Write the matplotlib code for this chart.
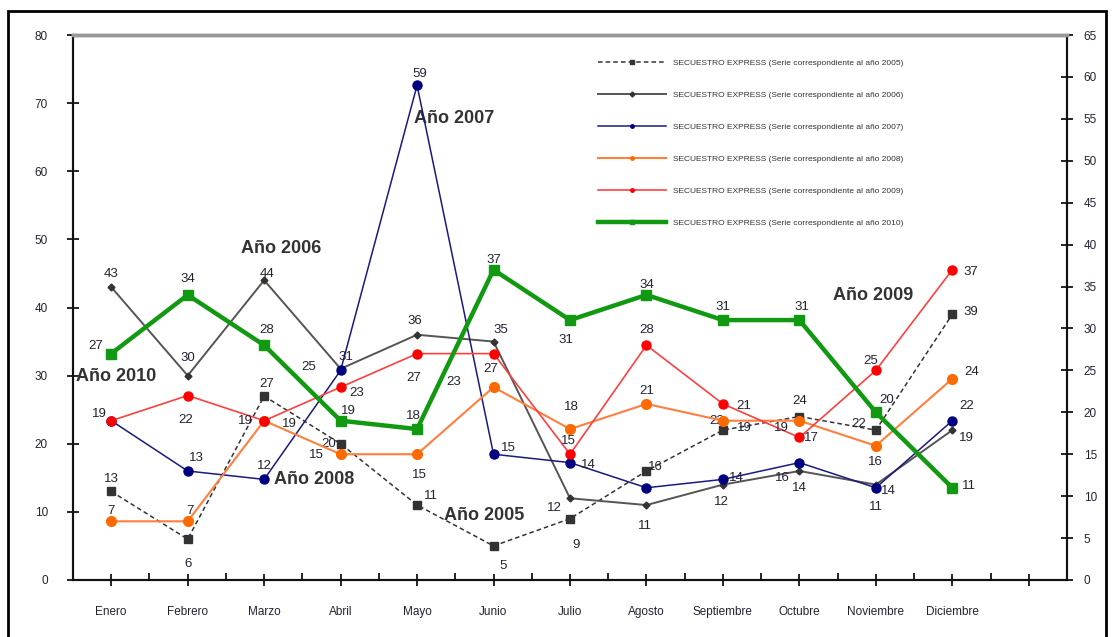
import matplotlib.pyplot as plt
import matplotlib.patches as mpatches
import numpy as np

plt.rcParams['font.family'] = ['Liberation Sans', 'DejaVu Sans']

# months (13th slot is empty on the chart)
months = ["Enero", "Febrero", "Marzo", "Abril", "Mayo", "Junio", "Julio",
          "Agosto", "Septiembre", "Octubre", "Noviembre", "Diciembre", ""]

# 2005 and 2006 are read on the left axis, the rest on the right axis
s2005 = [13, 6, 27, 20, 11, 5, 9, 16, 22, 24, 22, 39]
s2006 = [43, 30, 44, 31, 36, 35, 12, 11, 14, 16, 14, 22]
s2007 = [19, 13, 12, 25, 59, 15, 14, 11, 12, 14, 11, 19]
s2008 = [7, 7, 19, 15, 15, 23, 18, 21, 19, 19, 16, 24]
s2009 = [19, 22, 19, 23, 27, 27, 15, 28, 21, 17, 25, 37]
s2010 = [27, 34, 28, 19, 18, 37, 31, 34, 31, 31, 20, 11]

legend_base = "SECUESTRO EXPRESS (Serie correspondiente al año {})"

# label offsets in pixels (dx, dy up)
offs = {
    2005: [(0, 12), (0, -25), (3, 12), (-12, 0), (14, 9), (10, -20), (6, -26),
           (9, 4), (-6, 9), (0, 15), (-17, 6), (19, 2)],
    2006: [(0, 13), (0, 18), (3, 6), (5, 12), (-2, 14), (7, 12), (-16, -10),
           (-2, -21), (13, 7), (-17, -7), (13, -6), (14, 24)],
    2007: [None, (9, 13), (0, 13), (-32, 3), (3, 11), (15, 6), (18, -2),
           None, (-2, -23), (0, -25), (0, -19), (14, -17)],
    2008: [(0, 10), (2, 10), (25, -3), (-24, -1), (2, -21), (-40, 5), (1, 22),
           (0, 13), (21, -7), (-18, -7), (0, -16), (19, 7)],
    2009: [(-12, 7), (-2, -24), (-19, 0), (16, -6), (-3, -24), (-3, -15),
           (-2, 13), (0, 15), (21, -2), (12, -1), (-5, 9), (19, -2)],
    2010: [(-16, 8), (0, 16), (3, 15), (8, 10), (-4, 13), (0, 10), (-4, -20),
           (0, 10), (0, 13), (3, 13), (11, 12), (17, 2)],
}

fig = plt.figure(figsize=(11.12, 6.37), dpi=100)
ax = fig.add_axes([73 / 1112, 1 - 580 / 637, (1067 - 73) / 1112, 545 / 637])
ax2 = ax.twinx()

x = np.arange(12)
txt = '#222233'

lines = []
l, = ax.plot(x, s2005, color='#333333', ls=(0, (3, 2)), lw=1.1, marker='s', ms=6,
             label=legend_base.format(2005), zorder=3)
lines.append(l)
l, = ax.plot(x, s2006, color='#555555', lw=1.4, marker='D', ms=3.5, mfc='#333333', mec='#333333',
             label=legend_base.format(2006), zorder=3)
lines.append(l)
l, = ax2.plot(x, s2007, color='#1a1a80', lw=1.1, marker='o', ms=6.5, mfc='#000080', mec='#000080',
              label=legend_base.format(2007), zorder=3)
lines.append(l)
l, = ax2.plot(x, s2008, color='#ff7f3f', lw=1.5, marker='o', ms=7, mfc='#ff6a00', mec='#ff6a00',
              label=legend_base.format(2008), zorder=3)
lines.append(l)
l, = ax2.plot(x, s2009, color='#ff4040', lw=1.2, marker='o', ms=6.5, mfc='#ff0000', mec='#ff0000',
              label=legend_base.format(2009), zorder=3)
lines.append(l)
l, = ax2.plot(x, s2010, color='#119911', lw=3.2, marker='s', ms=7, mfc='#119911', mec='#119911',
              label=legend_base.format(2010), zorder=4)
lines.append(l)

for year, vals, a in [(2005, s2005, ax), (2006, s2006, ax), (2007, s2007, ax2),
                      (2008, s2008, ax2), (2009, s2009, ax2), (2010, s2010, ax2)]:
    for i, v in enumerate(vals):
        o = offs[year][i]
        if o is None:
            continue
        a.annotate(str(v), (i, v), xytext=o, textcoords='offset pixels',
                   ha='center', va='center', fontsize=9.5, color=txt, zorder=6)

# year annotations
notes = [("Año 2007", 4.49, 67.8), ("Año 2006", 2.22, 48.6), ("Año 2010", 0.06, 29.8),
         ("Año 2008", 2.66, 14.7), ("Año 2005", 4.88, 9.4), ("Año 2009", 9.97, 41.8)]
for t, nx, ny in notes:
    ax.text(nx, ny, t, ha='center', va='center', fontsize=13, fontweight='bold',
            color='#333333', zorder=7)

ax.set_xlim(-0.5, 12.5)
ax.set_ylim(0, 80)
ax2.set_ylim(0, 65)
ax.set_yticks(np.arange(0, 81, 10))
ax2.set_yticks(np.arange(0, 66, 5))
ax.set_xticks(np.arange(13))
ax.set_xticklabels(months)
ax.set_xticks(np.arange(13) + 0.5, minor=True)

ax.tick_params(axis='x', which='major', direction='inout', length=8, width=1.2,
               pad=15, labelsize=8.5, labelcolor=txt)
ax.tick_params(axis='x', which='minor', direction='in', length=5, width=1.2)
ax.tick_params(axis='y', direction='inout', length=8, width=1.2, pad=14,
               labelsize=8.5, labelcolor=txt)
ax2.tick_params(axis='y', direction='inout', length=8, width=1.2, pad=8,
                labelsize=8.5, labelcolor=txt)

for a in (ax, ax2):
    for side in ('left', 'right', 'bottom'):
        a.spines[side].set_linewidth(1.5)
        a.spines[side].set_color('#111111')
    a.spines['top'].set_color('#999999')
    a.spines['top'].set_linewidth(2.5)

leg = ax2.legend(handles=lines, loc='upper left', bbox_to_anchor=(598 / 1112, 1 - 59 / 637),
                 bbox_transform=fig.transFigure, frameon=False, fontsize=6,
                 labelspacing=2.9, handlelength=8.2, handletextpad=0.8,
                 borderpad=0, borderaxespad=0)
for ln in leg.get_lines():
    ln.set_markersize(2.5)
for t in leg.get_texts():
    t.set_color('#333333')

# outer border of the picture
fig.patches.append(mpatches.Rectangle((8 / 1112, -0.05), (1106 - 8) / 1112, 1.05 - 11 / 637,
                                      transform=fig.transFigure, fill=False,
                                      ec='black', lw=2))

fig.savefig('out.png', dpi=100)
